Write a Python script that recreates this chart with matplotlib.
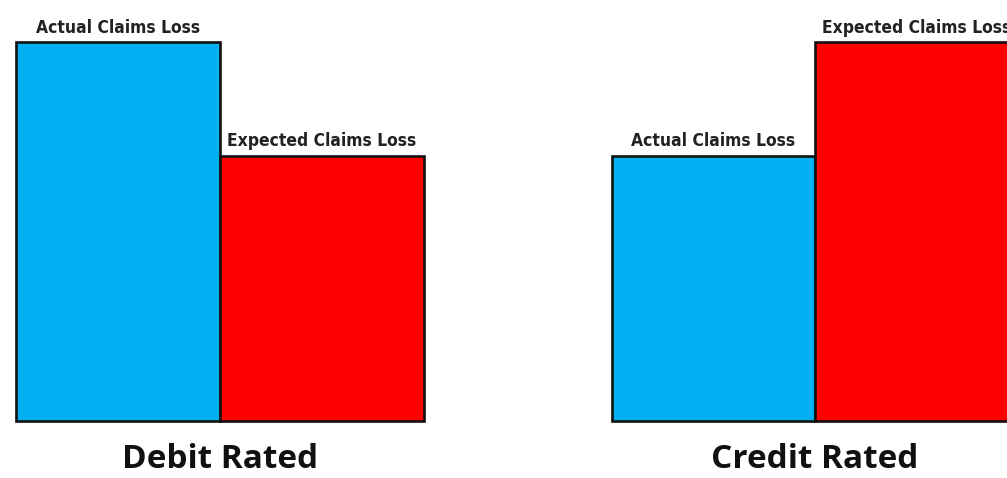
import matplotlib
matplotlib.use("Agg")
import matplotlib.pyplot as plt
from matplotlib import font_manager

groups = ["Debit Rated", "Credit Rated"]
series = ["Actual Claims Loss", "Expected Claims Loss"]
actual = [100, 70]
expected = [70, 100]
colors = ["#00B0F0", "#FF0000"]

avail = {f.name for f in font_manager.fontManager.ttflist}
title_font = "Open Sans" if "Open Sans" in avail else "DejaVu Sans"

fig = plt.figure(figsize=(10.07, 4.78), dpi=100)
ax = fig.add_axes([0, 0, 1, 1])
ax.set_axis_off()

centers = [0.0, 2.924]
width = 1.0
for i, g in enumerate(groups):
    vals = [actual[i], expected[i]]
    for j, v in enumerate(vals):
        x = centers[i] + (j - 0.5) * width
        ax.bar(x, v, width=width, color=colors[j], edgecolor="#111111",
               linewidth=1.9, zorder=2)
        ax.text(x, v + 1.4, series[j], ha="center", va="bottom",
                fontsize=12.5, fontweight="bold", family="DejaVu Sans",
                fontstretch="condensed", color="#222222", zorder=3)
    ax.text(centers[i], -10.2, g, ha="center", va="center",
            fontsize=24, fontweight="bold", family=title_font,
            color="#111111")

ax.set_xlim(-1.081, 3.867)
ax.set_ylim(-15.04, 111.08)
fig.savefig("out.png", dpi=100)
